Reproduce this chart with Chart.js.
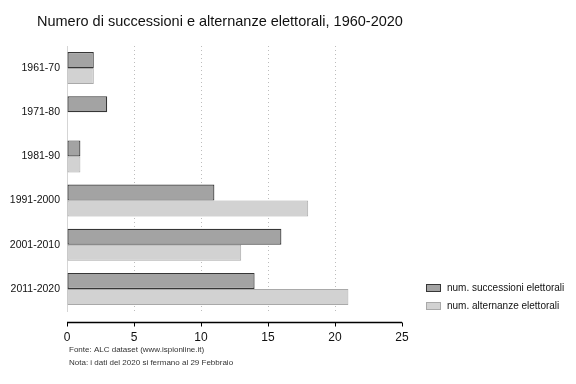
<!DOCTYPE html>
<html>
<head>
<meta charset="utf-8">
<script src="https://cdn.jsdelivr.net/npm/chart.js@4.4.1/dist/chart.umd.min.js"></script>
<style>
html,body{margin:0;padding:0;background:#fff;}
#wrap{width:576px;height:384px;}
</style>
</head>
<body>
<div id="wrap"><canvas id="c" width="576" height="384"></canvas></div>
<script>
const categories = ["1961-70", "1971-80", "1981-90", "1991-2000", "2001-2010", "2011-2020"];
const successioni = [2, 3, 1, 11, 16, 14];
const alternanze = [2, 0, 1, 18, 13, 21];
const xTicks = [0, 5, 10, 15, 20, 25];
const titleText = "Numero di successioni e alternanze elettorali, 1960-2020";
const notes = ["Fonte: ALC dataset (www.ispionline.it)", "Nota: i dati del 2020 si fermano al 29 Febbraio"];
const FONT = "'Liberation Sans', Arial, sans-serif";

const extras = {
  id: 'extras',
  afterDraw(chart) {
    const ctx = chart.ctx;
    const ca = chart.chartArea;
    const xs = chart.scales.x;
    ctx.save();
    // title
    ctx.fillStyle = '#111';
    ctx.font = '14.5px ' + FONT;
    ctx.textBaseline = 'middle';
    ctx.textAlign = 'left';
    ctx.fillText(titleText, 37, 22);
    // x axis line
    const yAx = ca.bottom + 11.5;
    ctx.strokeStyle = '#000';
    ctx.lineWidth = 1.3;
    ctx.beginPath();
    ctx.moveTo(xs.getPixelForValue(0), yAx);
    ctx.lineTo(xs.getPixelForValue(25), yAx);
    ctx.stroke();
    ctx.lineWidth = 1;
    xTicks.forEach(v => {
      const px = Math.round(xs.getPixelForValue(v)) + 0.5;
      ctx.beginPath();
      ctx.moveTo(px, yAx);
      ctx.lineTo(px, yAx + 4);
      ctx.stroke();
    });
    // notes
    ctx.fillStyle = '#333';
    ctx.font = '8px ' + FONT;
    ctx.fillText(notes[0], 69, 350);
    ctx.fillText(notes[1], 69, 363);
    // legend
    ctx.font = '10px ' + FONT;
    chart.data.datasets.forEach((ds, i) => {
      const y = 288 + i * 18;
      ctx.fillStyle = ds.backgroundColor;
      ctx.strokeStyle = ds.borderColor;
      ctx.fillRect(426, y - 3.5, 15, 7);
      ctx.strokeRect(426.5, y - 3.5, 14, 7);
      ctx.fillStyle = '#111';
      ctx.fillText(ds.label, 447, y);
    });
    ctx.restore();
  }
};

new Chart(document.getElementById('c'), {
  type: 'bar',
  data: {
    labels: categories,
    datasets: [
      { label: 'num. successioni elettorali', data: successioni, backgroundColor: '#a3a3a3', borderColor: '#363636', borderWidth: 1.2, borderSkipped: false },
      { label: 'num. alternanze elettorali', data: alternanze, backgroundColor: '#d2d2d2', borderColor: '#a9a9a9', borderWidth: 1, borderSkipped: false }
    ]
  },
  options: {
    indexAxis: 'y',
    responsive: false,
    animation: false,
    devicePixelRatio: 1,
    layout: { padding: { top: 46, right: 174, bottom: 0, left: 0 } },
    categoryPercentage: 0.725,
    barPercentage: 1.0,
    plugins: { legend: { display: false }, title: { display: false }, tooltip: { enabled: false } },
    scales: {
      x: {
        min: 0, max: 25,
        afterFit(s) { s.height = 73; },
        afterBuildTicks(s) { s.ticks = xTicks.map(v => ({ value: v })); },
        grid: {
          display: true,
          color: (c) => (c.tick && (c.tick.value === 0 || c.tick.value === 25)) ? 'rgba(0,0,0,0)' : '#bdbdbd',
          lineWidth: 1, drawTicks: false
        },
        border: { display: false, dash: [1, 3] },
        ticks: { padding: 19, color: '#111', font: { family: FONT, size: 12 } }
      },
      y: {
        afterFit(s) { s.width = 67; },
        grid: { display: false, drawTicks: false },
        border: { display: true, color: '#d5d5d5', width: 1 },
        ticks: { padding: 7, color: '#111', font: { family: FONT, size: 10.5 } }
      }
    }
  },
  plugins: [extras]
});
</script>
</body>
</html>
